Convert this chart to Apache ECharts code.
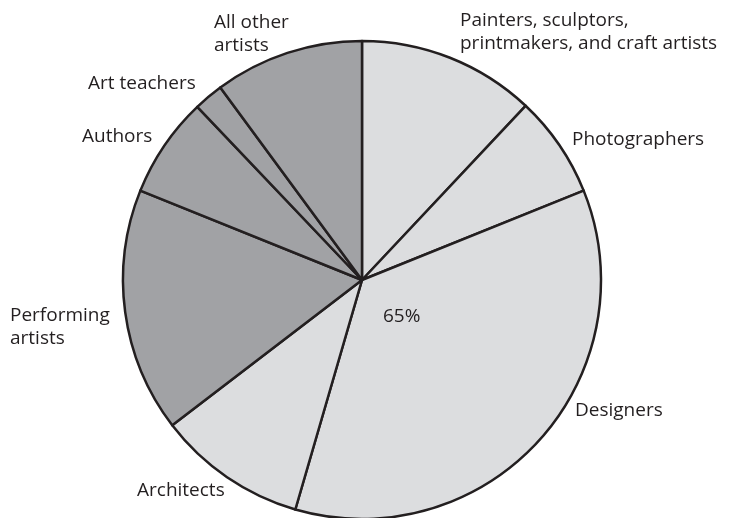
<!DOCTYPE html>
<html>
<head>
<meta charset="utf-8">
<script src="https://cdn.jsdelivr.net/npm/echarts@6/dist/echarts.min.js"></script>
<style>
  html, body { margin: 0; padding: 0; background: #fff; }
  #chart { width: 732px; height: 518px; }
</style>
</head>
<body>
<div id="chart"></div>
<script>
// shares of artist employment (percent), clockwise from 12 o'clock
var categories = [
    'Painters, sculptors,\nprintmakers, and craft artists',
    'Photographers',
    'Designers',
    'Architects',
    'Performing\nartists',
    'Authors',
    'Art teachers',
    'All other\nartists'
];
var shares = [12.0, 6.9, 35.6, 10.1, 16.5, 6.8, 2.0, 10.1];
// 0 = light group (the 65% part), 1 = dark group
var groups = [0, 0, 0, 0, 1, 1, 1, 1];

var fills = ['#dcdddf', '#a1a2a5'];
var ink = '#231f20';

// where each label sits: left x, vertical middle y
var labelSpots = [
    [460, 32], [572, 140], [575, 411], [137, 491],
    [10, 327], [82, 137], [88, 84], [214, 34]
];

var lightTotal = 0;
shares.forEach(function (v, i) { if (groups[i] === 0) lightTotal += v; });

var dom = document.getElementById('chart');
var myChart = echarts.init(dom, null, { renderer: 'canvas' });

var option = {
    animation: false,
    series: [
        {
            type: 'pie',
            center: [362, 280],
            radius: 239,
            startAngle: 90,
            clockwise: true,
            avoidLabelOverlap: false,
            silent: true,
            itemStyle: {
                borderColor: ink,
                borderWidth: 2.5
            },
            label: {
                show: true,
                position: 'outside',
                color: ink,
                fontFamily: 'Open Sans',
                fontSize: 19,
                lineHeight: 23,
                formatter: '{b}'
            },
            labelLine: { show: false },
            labelLayout: function (params) {
                var p = labelSpots[params.dataIndex];
                return { x: p[0], y: p[1], align: 'left', verticalAlign: 'middle' };
            },
            data: categories.map(function (c, i) {
                return { name: c, value: shares[i], itemStyle: { color: fills[groups[i]] } };
            })
        }
    ],
    graphic: [
        {
            type: 'text',
            z: 100,
            left: 383,
            top: 307,
            style: {
                text: Math.round(lightTotal) + '%',
                fill: ink,
                font: '19px "Open Sans"'
            }
        }
    ]
};

if (option && typeof option === 'object') {
    myChart.setOption(option, true);
}
</script>
</body>
</html>
